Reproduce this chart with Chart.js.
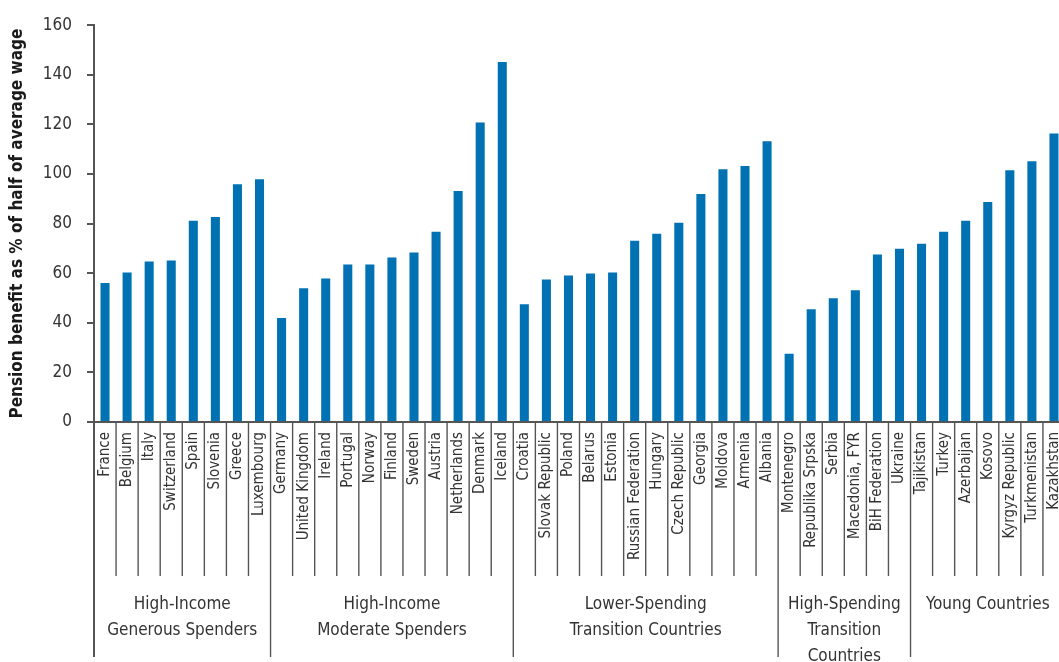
<!DOCTYPE html>
<html><head><meta charset="utf-8">
<script src="https://cdn.jsdelivr.net/npm/chart.js@4/dist/chart.umd.min.js"></script>
<style>
html,body{margin:0;padding:0;background:#fff;overflow:hidden;width:1059px;height:662px}
#wrap{width:1065px;height:662px;position:relative}
canvas{display:block}
</style></head>
<body><div id="wrap"><canvas id="c" width="1065" height="662"></canvas></div>
<script>
const countries = ["France","Belgium","Italy","Switzerland","Spain","Slovenia","Greece","Luxembourg",
  "Germany","United Kingdom","Ireland","Portugal","Norway","Finland","Sweden","Austria","Netherlands","Denmark","Iceland",
  "Croatia","Slovak Republic","Poland","Belarus","Estonia","Russian Federation","Hungary","Czech Republic","Georgia","Moldova","Armenia","Albania",
  "Montenegro","Republika Srpska","Serbia","Macedonia, FYR","BiH Federation","Ukraine",
  "Tajikistan","Turkey","Azerbaijan","Kosovo","Kyrgyz Republic","Turkmenistan","Kazakhstan"];
const pensionValues = [56,60.3,64.7,65.1,81.1,82.7,95.9,97.9,
  41.9,53.9,57.9,63.5,63.5,66.3,68.3,76.7,93.1,120.8,145.2,
  47.5,57.5,59.1,59.9,60.3,73.1,75.9,80.3,91.9,101.9,103.2,113.2,
  27.5,45.5,49.9,53.1,67.5,69.9,
  71.9,76.7,81.1,88.7,101.5,105.1,116.3];
const yTicks = [0,20,40,60,80,100,120,140,160];
const groupLabels = [["High-Income","Generous Spenders"],["High-Income","Moderate Spenders"],
  ["Lower-Spending","Transition Countries"],["High-Spending","Transition","Countries"],["Young Countries"]];
const groupSizes = [8,11,12,6,7];
const yTitle = "Pension benefit as % of half of average wage";

const FONT = '"DejaVu Sans Condensed","Liberation Sans Narrow",sans-serif';
const LINE = '#555555';

const sepPlugin = {
  id: 'separators',
  afterDraw(chart) {
    const x = chart.scales.x, ctx = chart.ctx;
    const axisY = chart.chartArea.bottom;
    const half = (x.getPixelForValue(1) - x.getPixelForValue(0)) / 2;
    const bounds = countries.map((_, i) => x.getPixelForValue(i) - half);
    bounds.push(x.getPixelForValue(countries.length - 1) + half);
    const gb = [0];
    groupSizes.reduce((a, s) => { gb.push(a + s); return a + s; }, 0);
    ctx.save();
    ctx.strokeStyle = LINE;
    bounds.forEach((bx, i) => {
      const isGroup = gb.includes(i);
      ctx.lineWidth = i === 0 ? 2 : 1.4;
      ctx.beginPath();
      ctx.moveTo(bx, axisY);
      ctx.lineTo(bx, axisY + (isGroup ? 235 : 154));
      ctx.stroke();
    });
    ctx.fillStyle = '#333333';
    ctx.font = '17px ' + FONT;
    ctx.textAlign = 'center';
    ctx.textBaseline = 'middle';
    groupLabels.forEach((lines, g) => {
      const cx = (bounds[gb[g]] + bounds[gb[g + 1]]) / 2;
      lines.forEach((t, j) => ctx.fillText(t, cx, axisY + 183 + j * 26));
    });
    ctx.restore();
  }
};

new Chart(document.getElementById('c'), {
  type: 'bar',
  data: {
    labels: countries,
    datasets: [{ data: pensionValues, backgroundColor: '#0071b3', borderWidth: 0,
      categoryPercentage: 1, barPercentage: 0.41 }]
  },
  options: {
    responsive: false, animation: false, devicePixelRatio: 1,
    layout: { padding: { top: 22, left: 0, right: 0, bottom: 0 }, autoPadding: false },
    plugins: { legend: { display: false }, tooltip: { enabled: false } },
    scales: {
      x: {
        offset: true,
        grid: { display: false, drawTicks: false, tickLength: 0 },
        border: { display: true, color: LINE, width: 2 },
        ticks: { autoSkip: false, maxRotation: 90, minRotation: 90, padding: 10,
          color: '#333333', font: { family: FONT, size: 15 } },
        afterFit(s) { s.height = 240; s.paddingLeft = 0; s.paddingRight = 0; }
      },
      y: {
        min: 0, max: 160,
        afterBuildTicks(s) { s.ticks = yTicks.map(v => ({ value: v })); },
        grid: { drawOnChartArea: false, drawTicks: true, tickLength: 7, color: LINE, lineWidth: 2 },
        border: { display: true, color: LINE, width: 2 },
        ticks: { padding: 15, color: '#333333', font: { family: FONT, size: 17 } },
        title: { display: true, text: yTitle, color: '#1a1a1a',
          font: { family: FONT, size: 17, weight: 'bold' }, padding: { top: 7, bottom: 0 } },
        afterFit(s) { s.width = 94; }
      }
    }
  },
  plugins: [sepPlugin]
});
</script>
</body></html>
